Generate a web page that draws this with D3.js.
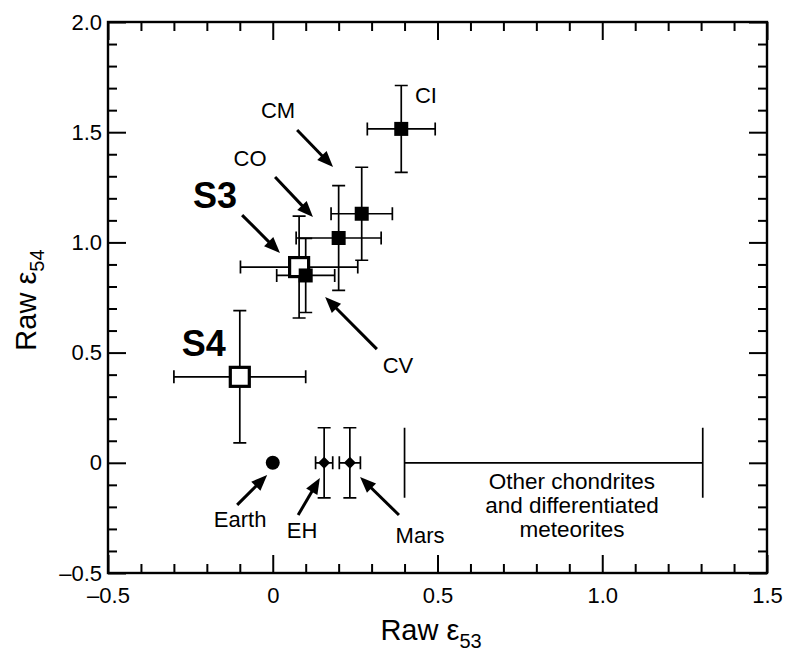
<!DOCTYPE html>
<html>
<head>
<meta charset="utf-8">
<script src="https://cdn.jsdelivr.net/npm/d3@7"></script>
<style>
	body { margin: 0; background: #fff; }
	svg { font-family: "Liberation Sans", Arial, Helvetica, sans-serif; }
	.bar { stroke: #000; stroke-width: 1.7; fill: none; }
	.tick line { stroke: #000; stroke-width: 2; }
	.arrow { stroke: #000; stroke-width: 3; }
</style>
</head>
<body>
<svg id="chart" width="786" height="651"></svg>
<script>
// chondrite groups (filled squares)
var groups = ['CI', 'CM', 'CO', 'CV'];
var group_x = [0.39, 0.27, 0.20, 0.10];
var group_y = [1.515, 1.13, 1.02, 0.85];
var group_xerr = [0.103, 0.093, 0.129, 0.088];
var group_yerr = [0.197, 0.211, 0.238, 0.168];

// samples (open squares)
var samples = ['S3', 'S4'];
var sample_x = [0.08, -0.10];
var sample_y = [0.888, 0.39];
var sample_xerr = [0.178, 0.20];
var sample_yerr = [0.231, 0.30];

// Earth (circle), EH and Mars (diamonds)
var bodies = ['Earth', 'EH', 'Mars'];
var body_x = [0, 0.156, 0.234];
var body_y = [0, 0, 0];
var body_xerr = [0, 0.026, 0.032];
var body_yerr = [0, 0.159, 0.159];

// range of other chondrites and differentiated meteorites
var range_x = [0.40, 1.305];
var range_y = 0;
var range_cap = 0.159;
var range_text = ['Other chondrites', 'and differentiated', 'meteorites'];
var range_text_x = 0.908;
var range_text_y = [-0.118, -0.228, -0.338];

// point labels, in data units
var labels = ['CI', 'CM', 'CO', 'S3', 'S4', 'CV', 'Earth', 'EH', 'Mars'];
var label_x = [0.465, 0.016, -0.069, -0.175, -0.209, 0.38, -0.099, 0.089, 0.447];
var label_y = [1.632, 1.564, 1.347, 1.156, 0.485, 0.407, -0.291, -0.341, -0.364];

// arrows, tail -> head, in data units
var arrow_from = [[0.074, 1.51], [0.007, 1.297], [-0.093, 1.124], [0.316, 0.516], [-0.108, -0.191], [0.077, -0.237], [0.383, -0.237]];
var arrow_to = [[0.183, 1.342], [0.122, 1.115], [0.022, 0.952], [0.159, 0.752], [-0.017, -0.055], [0.143, -0.069], [0.265, -0.064]];

var x_ticks = [-0.5, 0, 0.5, 1.0, 1.5];
var x_tick_labels = ['\u20130.5', '0', '0.5', '1.0', '1.5'];
var y_ticks = [-0.5, 0, 0.5, 1.0, 1.5, 2.0];
var y_tick_labels = ['\u20130.5', '0', '0.5', '1.0', '1.5', '2.0'];

var svg = d3.select('#chart');
var m = {left: 108, right: 767, top: 22, bottom: 573};

var x = d3.scaleLinear().domain([-0.5, 1.5]).range([m.left, m.right]);
var y = d3.scaleLinear().domain([-0.5, 2.0]).range([m.bottom, m.top]);

function is_major(d){ return Math.abs(d * 2 - Math.round(d * 2)) < 1e-6; }
var x_minor = x.ticks(20).filter(function(d){ return !is_major(d); });
var y_minor = y.ticks(25).filter(function(d){ return !is_major(d); });

// axes, ticks pointing inward on all four sides
function axis(gen, tx, ty, values, size, fmt){
	var g = svg.append('g')
		.attr('transform', 'translate(' + tx + ',' + ty + ')')
		.call(gen.tickValues(values).tickSizeInner(-size).tickSizeOuter(0)
			.tickFormat(fmt || function(){ return ''; }));
	g.select('.domain').remove();
	g.attr('font-family', null).attr('font-size', 22);
	g.selectAll('text').attr('fill', '#000');
	return g;
}
axis(d3.axisBottom(x).tickPadding(14), 0, m.bottom, x_ticks, 18, function(d, i){ return x_tick_labels[i]; });
axis(d3.axisBottom(x), 0, m.bottom, x_minor, 9);
axis(d3.axisTop(x), 0, m.top, x_ticks, 18);
axis(d3.axisTop(x), 0, m.top, x_minor, 9);
axis(d3.axisLeft(y).tickPadding(6), m.left, 0, y_ticks, 18, function(d, i){ return y_tick_labels[i]; });
axis(d3.axisLeft(y), m.left, 0, y_minor, 9);
axis(d3.axisRight(y), m.right, 0, y_ticks, 18);
axis(d3.axisRight(y), m.right, 0, y_minor, 9);

svg.append('rect')
	.attr('x', m.left).attr('y', m.top)
	.attr('width', m.right - m.left).attr('height', m.bottom - m.top)
	.attr('fill', 'none').attr('stroke', '#000').attr('stroke-width', 2.4);

// axis titles
var xt = svg.append('text')
	.attr('x', 431).attr('y', 640)
	.attr('text-anchor', 'middle').attr('font-size', 29)
	.text('Raw \u03b5');
xt.append('tspan').attr('font-size', 20).attr('dy', 8).text('53');

var yt = svg.append('text')
	.attr('transform', 'translate(36,300) rotate(-90)')
	.attr('text-anchor', 'middle').attr('font-size', 29)
	.text('Raw \u03b5');
yt.append('tspan').attr('font-size', 20).attr('dy', 8).text('54');

// error bars
function errorbars(g, xs, ys, xe, ye){
	var cap = 6.5;
	xs.forEach(function(d, i){
		var cx = x(d), cy = y(ys[i]);
		if (xe[i] > 0){
			var x0 = x(d - xe[i]), x1 = x(d + xe[i]);
			g.append('path').attr('class', 'bar')
				.attr('d', 'M' + x0 + ',' + cy + 'H' + x1 +
					'M' + x0 + ',' + (cy - cap) + 'V' + (cy + cap) +
					'M' + x1 + ',' + (cy - cap) + 'V' + (cy + cap));
		}
		if (ye[i] > 0){
			var y0 = y(ys[i] - ye[i]), y1 = y(ys[i] + ye[i]);
			g.append('path').attr('class', 'bar')
				.attr('d', 'M' + cx + ',' + y0 + 'V' + y1 +
					'M' + (cx - cap) + ',' + y0 + 'H' + (cx + cap) +
					'M' + (cx - cap) + ',' + y1 + 'H' + (cx + cap));
		}
	});
}
var bars = svg.append('g');
errorbars(bars, group_x, group_y, group_xerr, group_yerr);
errorbars(bars, sample_x, sample_y, sample_xerr, sample_yerr);
errorbars(bars, body_x, body_y, body_xerr, body_yerr);

// range bar
bars.append('path').attr('class', 'bar')
	.attr('d', 'M' + x(range_x[0]) + ',' + y(range_y) + 'H' + x(range_x[1]) +
		'M' + x(range_x[0]) + ',' + y(range_y - range_cap) + 'V' + y(range_y + range_cap) +
		'M' + x(range_x[1]) + ',' + y(range_y - range_cap) + 'V' + y(range_y + range_cap));

// markers
svg.selectAll('.sample')
	.data(samples)
	.enter()
	.append('rect')
	.attr('class', 'sample')
	.attr('x', function(d, i){ return x(sample_x[i]) - 9.5; })
	.attr('y', function(d, i){ return y(sample_y[i]) - 9.5; })
	.attr('width', 19).attr('height', 19)
	.attr('fill', '#fff').attr('stroke', '#000').attr('stroke-width', 3.2);

svg.selectAll('.group')
	.data(groups)
	.enter()
	.append('rect')
	.attr('class', 'group')
	.attr('x', function(d, i){ return x(group_x[i]) - 7; })
	.attr('y', function(d, i){ return y(group_y[i]) - 7; })
	.attr('width', 14).attr('height', 14)
	.attr('fill', '#000');

svg.append('circle')
	.attr('cx', x(body_x[0])).attr('cy', y(body_y[0])).attr('r', 7)
	.attr('fill', '#000');

svg.selectAll('.diamond')
	.data(bodies.slice(1))
	.enter()
	.append('path')
	.attr('class', 'diamond')
	.attr('transform', function(d, i){ return 'translate(' + x(body_x[i + 1]) + ',' + y(body_y[i + 1]) + ')'; })
	.attr('d', 'M0,-6L6,0L0,6L-6,0Z')
	.attr('fill', '#000');

// arrows
arrow_from.forEach(function(a, i){
	var x0 = x(a[0]), y0 = y(a[1]);
	var x1 = x(arrow_to[i][0]), y1 = y(arrow_to[i][1]);
	var ang = Math.atan2(y1 - y0, x1 - x0);
	var len = 16, hw = 6.5;
	var bx = x1 - len * Math.cos(ang), by = y1 - len * Math.sin(ang);
	svg.append('line').attr('class', 'arrow')
		.attr('x1', x0).attr('y1', y0)
		.attr('x2', bx + 2 * Math.cos(ang)).attr('y2', by + 2 * Math.sin(ang));
	svg.append('path')
		.attr('d', 'M' + x1 + ',' + y1 +
			'L' + (bx + hw * Math.sin(ang)) + ',' + (by - hw * Math.cos(ang)) +
			'L' + (bx - hw * Math.sin(ang)) + ',' + (by + hw * Math.cos(ang)) + 'Z')
		.attr('fill', '#000');
});

// labels
svg.selectAll('.label')
	.data(labels)
	.enter()
	.append('text')
	.attr('class', 'label')
	.attr('x', function(d, i){ return x(label_x[i]); })
	.attr('y', function(d, i){ return y(label_y[i]); })
	.attr('text-anchor', 'middle')
	.attr('font-size', function(d){ return d[0] === 'S' ? 36 : 22; })
	.attr('font-weight', function(d){ return d[0] === 'S' ? 'bold' : 'normal'; })
	.text(function(d){ return d; });

svg.selectAll('.range-text')
	.data(range_text)
	.enter()
	.append('text')
	.attr('x', x(range_text_x))
	.attr('y', function(d, i){ return y(range_text_y[i]); })
	.attr('text-anchor', 'middle')
	.attr('font-size', 22.5)
	.text(function(d){ return d; });
</script>
</body>
</html>
